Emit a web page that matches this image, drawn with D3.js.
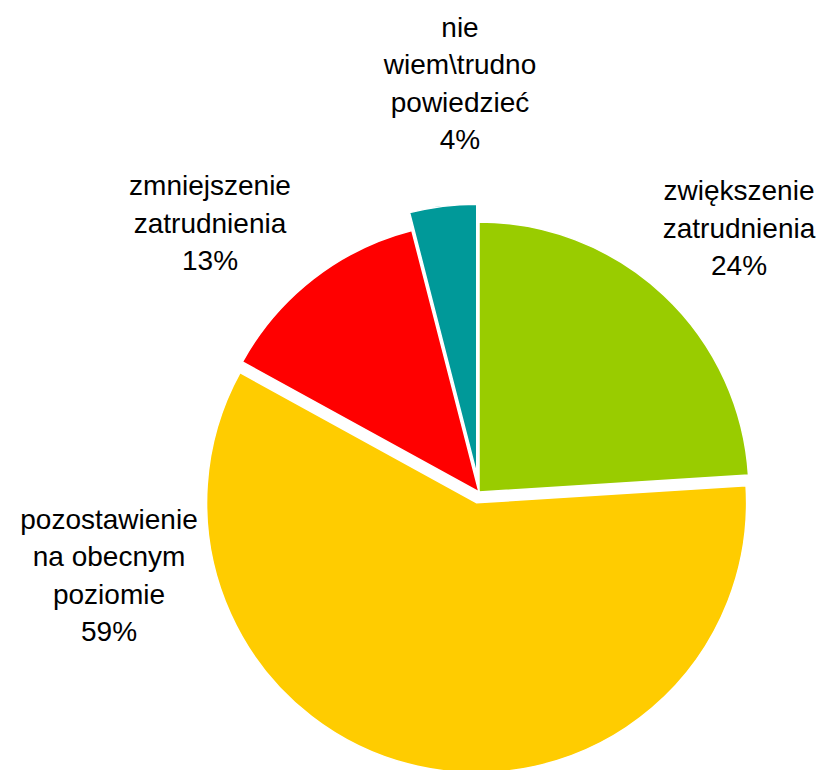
<!DOCTYPE html>
<html>
<head>
<meta charset="utf-8">
<script src="https://cdn.jsdelivr.net/npm/d3@7"></script>
<style>
  body { margin: 0; background: #fff; }
  svg { display: block; }
  text { font-family: "Liberation Sans", Arial, sans-serif; font-size: 28px; fill: #000; }
</style>
</head>
<body>
<svg></svg>
<script>
// Data
var categories = ['zwiększenie zatrudnienia', 'pozostawienie na obecnym poziomie', 'zmniejszenie zatrudnienia', 'nie wiem\\trudno powiedzieć'];
var values = [24, 59, 13, 4];
var labelLines = [
    ['zwiększenie', 'zatrudnienia', '24%'],
    ['pozostawienie', 'na obecnym', 'poziomie', '59%'],
    ['zmniejszenie', 'zatrudnienia', '13%'],
    ['nie', 'wiem\\trudno', 'powiedzieć', '4%']
];
var colors = ['#99cc00', '#ffcc00', '#ff0000', '#009999'];

// Layout
var width = 827;
var height = 770;
var cx = 479, cy = 492;
var radius = 270;
var explode = [0, 11, 0, 18];
// label centres relative to pie centre
var labelOffset = [[260, -264], [-370, 83], [-269, -269], [-19, -409]];
var lineHeight = 37.5;

var svg = d3.select('svg')
    .attr('width', width)
    .attr('height', height);

var chart = svg.append('g')
    .attr('transform', `translate(${cx}, ${cy})`);

var arcs = d3.pie().sort(null).value(d => d)(values);
var path = d3.arc().innerRadius(0).outerRadius(radius);

chart.selectAll('.arc')
    .data(arcs)
    .enter().append('path')
        .classed('arc', true)
        .attr('d', path)
        .attr('fill', (d, i) => colors[i])
        .attr('stroke', '#fff')
        .attr('stroke-width', 1.5)
        .attr('transform', (d, i) => {
            var mid = (d.startAngle + d.endAngle) / 2;
            return `translate(${explode[i] * Math.sin(mid)}, ${-explode[i] * Math.cos(mid)})`;
        });

// Labels
var labels = chart.selectAll('.label')
    .data(arcs)
    .enter().append('text')
        .classed('label', true)
        .attr('text-anchor', 'middle')
        .attr('transform', (d, i) => `translate(${labelOffset[i][0]}, ${labelOffset[i][1]})`);

labels.each(function(d, i) {
    var lines = labelLines[i];
    var start = -(lines.length - 1) / 2 * lineHeight;
    d3.select(this).selectAll('tspan')
        .data(lines)
        .enter().append('tspan')
            .attr('x', 0)
            .attr('y', (t, j) => start + j * lineHeight)
            .attr('dy', '0.35em')
            .text(t => t);
});
</script>
</body>
</html>
